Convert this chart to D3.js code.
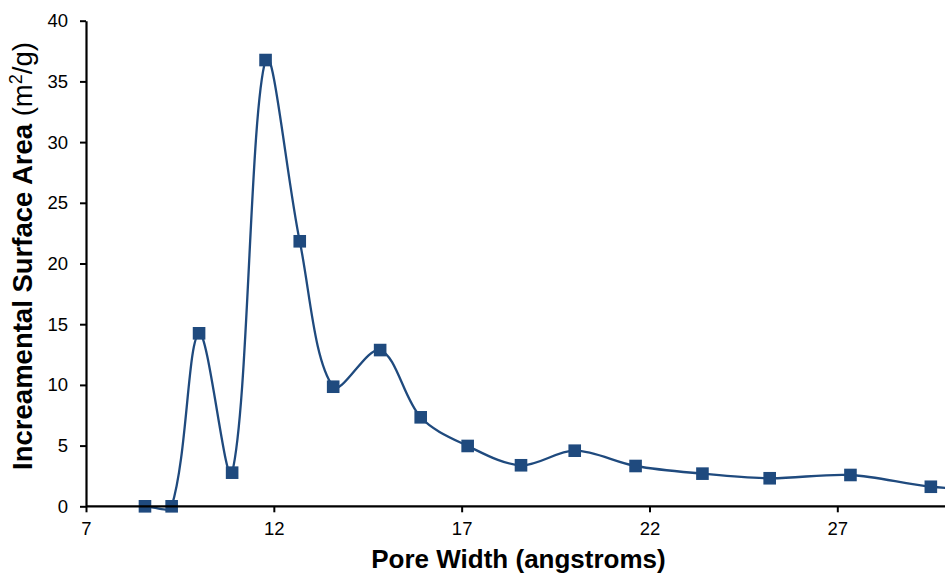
<!DOCTYPE html>
<html><head><meta charset="utf-8">
<script src="https://cdn.jsdelivr.net/npm/d3@7"></script>
<style>body{margin:0;background:#fff;} svg{display:block;font-family:"Liberation Sans",Arial,sans-serif;}</style>
</head><body>
<svg id="c" width="945" height="575"></svg>
<script>
const poreWidth = [8.57, 9.28, 10.01, 10.89, 11.78, 12.69, 13.58, 14.83, 15.91, 17.16, 18.58, 20.01, 21.63, 23.41, 25.20, 27.35, 29.49, 31.8];
const surfaceArea = [0, 0, 14.25, 2.77, 36.76, 21.83, 9.85, 12.87, 7.33, 4.97, 3.38, 4.58, 3.32, 2.69, 2.31, 2.58, 1.61, 1.2];
const xTicks = [7, 12, 17, 22, 27];
const yTicks = [0, 5, 10, 15, 20, 25, 30, 35, 40];
const color = "#1f4a7e";

// Excel-like smoothed curve: Bezier with distance-weighted tangents
function ExcelSmooth(context) { this._context = context; }
ExcelSmooth.prototype = {
  areaStart(){}, areaEnd(){},
  lineStart(){ this._pts = []; },
  point(x, y){ this._pts.push([+x, +y]); },
  lineEnd(){
    const p = this._pts, c = this._context, n = p.length;
    if (!n) return;
    c.moveTo(p[0][0], p[0][1]);
    const dist = (a,b)=>Math.hypot(b[0]-a[0], b[1]-a[1]);
    for (let i = 0; i < n - 1; i++) {
      const p0 = p[Math.max(i-1,0)], p1 = p[i], p2 = p[i+1], p3 = p[Math.min(i+2,n-1)];
      const d01 = dist(p0,p1), d12 = dist(p1,p2), d23 = dist(p2,p3);
      const f1 = (d01 + d12) > 0 ? d12 / (3*(d01 + d12)) : 0;
      const f2 = (d12 + d23) > 0 ? d12 / (3*(d12 + d23)) : 0;
      const t1 = (i === 0) ? [ (p2[0]-p1[0])*2, (p2[1]-p1[1])*2 ] : [p2[0]-p0[0], p2[1]-p0[1]];
      const t2 = (i+1 === n-1) ? [ (p2[0]-p1[0])*2, (p2[1]-p1[1])*2 ] : [p3[0]-p1[0], p3[1]-p1[1]];
      const g1 = (i === 0) ? 1/6 : f1, g2 = (i+1 === n-1) ? 1/6 : f2;
      c.bezierCurveTo(p1[0]+t1[0]*g1, p1[1]+t1[1]*g1, p2[0]-t2[0]*g2, p2[1]-t2[1]*g2, p2[0], p2[1]);
    }
  }
};
const curveExcel = ctx => new ExcelSmooth(ctx);

const svg = d3.select("#c");
const x = d3.scaleLinear().domain([7, 30]).range([86, 950]);
const y = d3.scaleLinear().domain([0, 40]).range([506.3, 20.7]);

svg.append("defs").append("clipPath").attr("id","clip")
  .append("rect").attr("x",0).attr("y",0).attr("width",945).attr("height",575);

const data = poreWidth.map((d,i)=>({x:d, y:surfaceArea[i]}));

const g = svg.append("g").attr("clip-path","url(#clip)");
g.append("path").datum(data)
  .attr("fill","none").attr("stroke",color).attr("stroke-width",2.3)
  .attr("d", d3.line().x(d=>x(d.x)).y(d=>y(d.y)).curve(curveExcel));

// axes
const xAxis = svg.append("g").attr("transform","translate(0,506.3)")
  .call(d3.axisBottom(x).tickValues(xTicks).tickSize(6).tickSizeOuter(0).tickPadding(10));
const yAxis = svg.append("g").attr("transform","translate(86,0)")
  .call(d3.axisLeft(y).tickValues(yTicks).tickSize(6).tickSizeOuter(0).tickPadding(12));
[xAxis,yAxis].forEach(a=>{
  a.select(".domain").attr("stroke","#000").attr("stroke-width",2.2);
  a.selectAll(".tick line").attr("stroke","#000").attr("stroke-width",2);
  a.selectAll(".tick text").attr("font-size",18.5).attr("fill","#000").attr("font-family","Liberation Sans, Arial, sans-serif");
});
xAxis.select(".domain").attr("d","M86,0H945");

g.selectAll("rect.m").data(data).enter().append("rect").attr("class","m")
  .attr("x",d=>x(d.x)-6.3).attr("y",d=>y(d.y)-6.3).attr("width",12.6).attr("height",12.6)
  .attr("fill",color);

svg.append("text").attr("x",518.5).attr("y",568).attr("text-anchor","middle")
  .attr("font-size",26).attr("font-weight","bold").text("Pore Width (angstroms)");

const yt = svg.append("text").attr("transform","translate(32,256) rotate(-90)").attr("text-anchor","middle").attr("font-size",27.5);
yt.append("tspan").attr("font-weight","bold").text("Increamental Surface Area ");
yt.append("tspan").text("(m");
yt.append("tspan").attr("font-size",18).attr("dy",-10).text("2");
yt.append("tspan").attr("dy",10).text("/g)");
</script>
</body></html>
